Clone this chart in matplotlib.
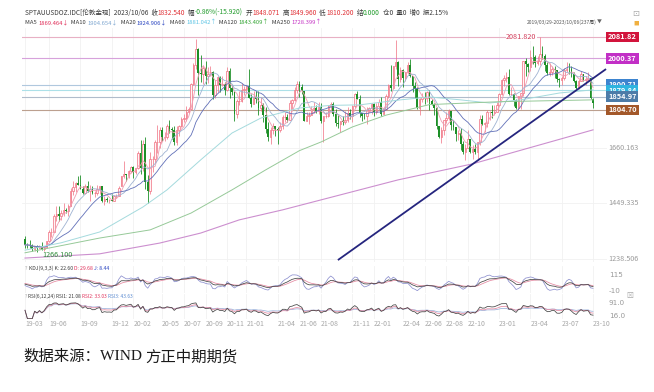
import numpy as np
import pandas as pd
import matplotlib
matplotlib.use("Agg")
import matplotlib.pyplot as plt
from matplotlib.transforms import blended_transform_factory

# ---------------- data (weekly, 2019/03/29 - 2023/10/06, 237 bars) ----------------
open_ = [1313,1292,1291,1290,1275,1286,1280,1286,1277,1284,
         1305,1341,1341,1400,1409,1400,1415,1426,1419,1441,
         1497,1513,1526,1520,1506,1488,1517,1497,1504,1489,
         1490,1505,1514,1459,1468,1462,1463,1460,1476,1478,
         1517,1552,1562,1557,1571,1589,1570,1584,1643,1585,
         1674,1530,1498,1617,1620,1683,1683,1727,1700,1702,
         1743,1734,1730,1684,1730,1743,1771,1775,1798,1810,
         1902,1975,2035,1944,1940,1964,1934,1940,1950,1861,
         1900,1930,1900,1902,1879,1951,1889,1871,1788,1839,
         1839,1881,1883,1896,1850,1828,1855,1847,1813,1823,
         1784,1733,1700,1727,1745,1732,1729,1744,1777,1777,
         1768,1831,1844,1881,1904,1891,1877,1764,1781,1787,
         1808,1812,1802,1814,1763,1780,1781,1818,1828,1788,
         1754,1750,1761,1757,1767,1792,1783,1818,1864,1846,
         1792,1783,1782,1804,1811,1829,1797,1818,1835,1791,
         1807,1859,1898,1889,1970,1988,1921,1958,1925,1947,
         1975,1932,1897,1883,1811,1845,1853,1851,1871,1840,
         1826,1811,1742,1703,1727,1766,1775,1802,1747,1738,
         1712,1716,1675,1644,1661,1695,1644,1656,1644,1681,
         1771,1751,1754,1797,1797,1793,1798,1824,1866,1920,
         1926,1928,1865,1865,1842,1811,1856,1868,1989,1978,
         1969,2007,2004,1983,1990,2016,2011,1977,1946,1948,
         1961,1958,1921,1919,1925,1955,1962,1959,1943,1914,
         1889,1915,1940,1919,1924,1925,1848.071]
high = [1324,1300,1310,1296,1288,1290,1290,1304,1287,1306,
        1348,1358,1411,1439,1438,1425,1453,1433,1449,1510,
        1535,1531,1555,1557,1516,1523,1535,1519,1516,1498,
        1518,1517,1517,1477,1475,1468,1485,1480,1485,1515,
        1553,1611,1563,1575,1590,1590,1585,1649,1689,1692,
        1703,1558,1645,1630,1690,1747,1738,1738,1722,1751,
        1765,1740,1745,1744,1746,1779,1789,1818,1815,1906,
        1984,2075,2039,2015,1977,1992,1966,1973,1952,1917,
        1933,1933,1932,1910,1966,1965,1900,1876,1847,1875,
        1906,1896,1900,1959,1864,1875,1875,1875,1855,1830,
        1816,1760,1739,1755,1745,1740,1758,1784,1798,1790,
        1843,1845,1890,1913,1916,1903,1878,1795,1795,1818,
        1834,1825,1833,1832,1783,1795,1823,1834,1833,1809,
        1787,1764,1781,1800,1814,1810,1822,1869,1877,1861,
        1793,1792,1814,1816,1831,1832,1830,1848,1853,1812,
        1865,1902,1974,1973,2070,1990,1966,1960,1950,1988,
        1998,1935,1910,1890,1849,1870,1874,1877,1879,1847,
        1830,1814,1745,1740,1767,1796,1807,1802,1765,1741,
        1729,1735,1688,1675,1730,1696,1670,1675,1682,1786,
        1787,1760,1804,1800,1824,1823,1833,1869,1922,1937,
        1949,1960,1890,1869,1845,1858,1870,1989,2003,1983,
        2032,2048,2015,2009,2081.82,2048,2019,1985,1983,1971,
        1971,1958,1926,1935,1963,1987,1982,1971,1948,1919,
        1923,1953,1943,1932,1947,1925,1849.96]
low = [1281,1280,1281,1270,1268,1266.1,1279,1273,1269,1280,
       1305,1322,1340,1382,1381,1386,1400,1412,1400,1440,
       1480,1492,1520,1506,1485,1484,1492,1459,1484,1474,
       1480,1487,1456,1445,1456,1452,1458,1458,1472,1477,
       1517,1548,1536,1546,1564,1548,1561,1581,1562,1574,
       1504,1451,1484,1568,1603,1641,1660,1688,1685,1696,
       1717,1693,1670,1671,1705,1741,1757,1763,1793,1807,
       1899,1961,1863,1910,1903,1902,1906,1933,1848,1850,
       1873,1872,1894,1860,1877,1850,1860,1764,1775,1822,
       1835,1862,1869,1849,1817,1826,1830,1785,1800,1760,
       1717,1687,1676,1712,1705,1677,1721,1731,1759,1757,
       1767,1808,1840,1870,1855,1867,1761,1761,1750,1785,
       1795,1794,1789,1755,1682,1773,1778,1806,1782,1745,
       1737,1721,1746,1750,1760,1770,1759,1812,1845,1778,
       1762,1770,1753,1796,1791,1782,1790,1805,1780,1788,
       1806,1850,1878,1885,1960,1895,1910,1890,1915,1940,
       1929,1872,1850,1807,1786,1834,1828,1836,1805,1822,
       1784,1732,1697,1680,1711,1754,1765,1727,1727,1688,
       1691,1654,1639,1614,1659,1640,1617,1638,1616,1671,
       1747,1721,1740,1765,1775,1784,1795,1823,1863,1896,
       1911,1860,1860,1819,1809,1804,1809,1858,1934,1949,
       1951,1981,1969,1974,1977,2000,1952,1937,1932,1938,
       1925,1910,1893,1901,1920,1950,1942,1928,1910,1885,
       1885,1913,1915,1901,1913,1846,1810.2]
close = [1292,1291,1290,1275,1286,1280,1286,1277,1284,1305,
         1341,1341,1400,1409,1400,1415,1426,1419,1441,1497,
         1513,1526,1520,1506,1488,1517,1497,1504,1489,1490,
         1505,1514,1459,1468,1462,1463,1460,1476,1478,1510,
         1552,1562,1557,1571,1589,1570,1584,1643,1585,1674,
         1530,1498,1617,1620,1683,1683,1727,1700,1702,1743,
         1734,1730,1684,1730,1743,1771,1775,1798,1810,1902,
         1975,2035,1944,1940,1964,1934,1940,1950,1861,1900,
         1930,1900,1902,1879,1951,1889,1871,1788,1839,1839,
         1881,1883,1896,1850,1828,1855,1847,1813,1823,1784,
         1733,1700,1727,1745,1732,1729,1744,1777,1777,1768,
         1831,1844,1881,1904,1891,1877,1764,1781,1787,1808,
         1812,1802,1814,1763,1780,1781,1818,1828,1788,1754,
         1750,1761,1757,1767,1792,1783,1818,1864,1846,1792,
         1783,1782,1804,1811,1829,1797,1818,1835,1791,1807,
         1859,1898,1889,1970,1988,1921,1958,1925,1947,1975,
         1932,1897,1883,1811,1845,1853,1851,1871,1840,1826,
         1811,1742,1703,1727,1766,1775,1802,1747,1738,1712,
         1716,1675,1644,1661,1695,1644,1656,1644,1681,1771,
         1751,1754,1797,1797,1793,1798,1824,1866,1920,1926,
         1928,1865,1865,1842,1811,1856,1868,1989,1978,1969,
         2007,2004,1983,1990,2016,2011,1977,1946,1948,1961,
         1958,1921,1919,1925,1955,1962,1959,1943,1914,1889,
         1915,1940,1919,1924,1925,1849,1832.54]

# long moving averages (bar index -> value)
ma60_idx = [0, 15, 31, 49, 59, 73, 86, 98, 114, 127, 139, 156, 168, 181, 193, 206, 222, 236]
ma60_val = [1272, 1300, 1341, 1436, 1501, 1615, 1717, 1774, 1812, 1822, 1824, 1843, 1854, 1843, 1831, 1843, 1869, 1881]
ma120_idx = [0, 31, 52, 69, 86, 100, 114, 123, 136, 150, 168, 197, 236]
ma120_val = [1262, 1318, 1349, 1413, 1501, 1577, 1650, 1683, 1740, 1785, 1825, 1836, 1843]
ma250_idx = [0, 31, 56, 73, 89, 107, 123, 155, 186, 236]
ma250_val = [1242, 1258, 1299, 1337, 1387, 1425, 1463, 1539, 1600, 1729]

# marked price levels (right-hand tags)
level_vals = [2081.82, 2000.37, 1900.71, 1879.84, 1854.97, 1804.70]
level_text = ["2081.82", "2000.37", "1900.71", "1879.84", "1854.97", "1804.70"]
# trend line end points (bar index, price)
trend_idx = [130, 241.4]
trend_val = [1234.4, 1960.0]

yticks_main = [1238.506, 1449.335, 1660.163]
tick_labels = ["19-03", "19-06", "19-09", "19-12", "20-02", "20-05", "20-07", "20-09",
               "20-11", "21-01", "21-04", "21-06", "21-08", "21-11", "22-01", "22-04",
               "22-06", "22-08", "22-10", "23-01", "23-04", "23-07", "23-10"]

o = np.array(open_, float); h = np.array(high, float)
l = np.array(low, float); c = np.array(close, float)
n = len(c)
assert len(o) == len(h) == len(l) == n == 237
x = np.arange(n)
dates = pd.date_range("2019-03-29", periods=n, freq="W-FRI")
ym = dates.strftime("%y-%m")
tick_pos = [int(np.argmax(ym == t)) for t in tick_labels]

# ---------------- figure ----------------
W, H = 654, 392
fig = plt.figure(figsize=(W / 100, H / 100), dpi=100)
fig.patch.set_facecolor("white")
def fy(y):
    return 1 - y / H

L, R = 22, 607
ax = fig.add_axes([L / W, fy(262), (R - L) / W, (262 - 28) / H])
axk = fig.add_axes([L / W, fy(293), (R - L) / W, 27 / H])
axr = fig.add_axes([L / W, fy(319), (R - L) / W, 25 / H])
XL = (-1.25, 241.8)
for a in (ax, axk, axr):
    a.set_xlim(*XL)
    a.patch.set_alpha(0)
    for s in a.spines.values():
        s.set_visible(False)
    a.set_xticks([]); a.set_yticks([])
    for p in tick_pos:
        a.axvline(p, color="#f1f1f1", lw=0.6, zorder=0)

ax.set_ylim(1227, 2116)
for yv in yticks_main:
    ax.axhline(yv, color="#f1f1f1", lw=0.6, zorder=0)

CJK = ["Noto Sans CJK SC", "DejaVu Sans"]
GRAY = "#9a9a9a"
tr_main = blended_transform_factory(ax.transAxes, ax.transData)
for yv in yticks_main:
    ax.text(1.003, yv, f"{yv:.3f}", transform=tr_main, fontsize=5.2, color=GRAY,
            va="center", ha="left", family=CJK)

# level lines
lvl_line_col = ["#e8b0c4", "#d7a2db", "#b0c8de", "#ace0e8", "#b0bccb", "#bca08f"]
lvl_box_col = ["#d2143c", "#c22fc6", "#3d84cf", "#2fb4df", "#4d7ca8", "#a3582a"]
for v, t, lc, bc in zip(level_vals, level_text, lvl_line_col, lvl_box_col):
    ax.axhline(v, color=lc, lw=0.8, zorder=1)
    ax.text(1.002, v, t, transform=tr_main, fontsize=5.3, color="white", va="center",
            ha="left", family=CJK, fontweight="bold", zorder=6,
            bbox=dict(boxstyle="square,pad=0.25", fc=bc, ec="none"))

# candles
UPC, DNC = "#f06f80", "#1d8f27"
up = c >= o
ax.vlines(x[up], l[up], h[up], color=UPC, lw=0.5, zorder=2)
ax.vlines(x[~up], l[~up], h[~up], color=DNC, lw=0.6, zorder=2)
ax.bar(x[up], c[up] - o[up], bottom=o[up], width=0.62, facecolor="#fff4f5",
       edgecolor=UPC, lw=0.5, zorder=3)
ax.bar(x[~up], o[~up] - c[~up], bottom=c[~up], width=0.72, color=DNC, lw=0, zorder=3)

# moving averages
cs = pd.Series(c)
ax.plot(x, cs.rolling(5, min_periods=1).mean(), color="#ef9db2", lw=0.6, zorder=4)
ax.plot(x, cs.rolling(10, min_periods=1).mean(), color="#9fb3d2", lw=0.6, zorder=4)
ax.plot(x, cs.rolling(20, min_periods=1).mean(), color="#6170b8", lw=0.6, zorder=4)
ax.plot(ma60_idx, ma60_val, color="#a4dadd", lw=0.7, zorder=4)
ax.plot(ma120_idx, ma120_val, color="#96c998", lw=0.7, zorder=4)
ax.plot(ma250_idx, ma250_val, color="#cc8fcf", lw=0.8, zorder=4)

# trend line
ax.plot(trend_idx, trend_val, color="#25257e", lw=1.3, zorder=5, solid_capstyle="butt")

# extreme labels
imax = int(np.argmax(h)); imin = int(np.argmin(l))
ax.text(imax - 1.5, h[imax], f"{h[imax]:.3f}", fontsize=5.2, color="#d23c5a", ha="right",
        va="center", family=CJK, zorder=6,
        bbox=dict(boxstyle="square,pad=0.05", fc="white", ec="none"))
ax.text(imin + 2.0, l[imin] - 12, f"{l[imin]:.3f}", fontsize=5.2, color="#2e8b3a", ha="left",
        va="center", family=CJK, zorder=6)

# ---------------- KDJ(9,3,3) ----------------
llv = pd.Series(l).rolling(9, min_periods=1).min().values
hhv = pd.Series(h).rolling(9, min_periods=1).max().values
rsv = np.where(hhv > llv, (c - llv) / np.where(hhv > llv, hhv - llv, 1) * 100, 50)
K = np.zeros(n); D = np.zeros(n)
kp, dp = 50.0, 50.0
for i in range(n):
    kp = (2 * kp + rsv[i]) / 3
    dp = (2 * dp + kp) / 3
    K[i], D[i] = kp, dp
J = 3 * K - 2 * D
axk.set_ylim(-29, 187)
axk.plot(x, J, color="#8d90cf", lw=0.55)
axk.plot(x, D, color="#e58aa2", lw=0.55)
axk.plot(x, K, color="#444444", lw=0.55)
tr_k = blended_transform_factory(axk.transAxes, axk.transData)
for v, t in [(115, "115"), (-10, "-10")]:
    axk.text(1.003, v, t, transform=tr_k, fontsize=5.2, color=GRAY, va="center", ha="left")

# ---------------- RSI(6,12,24) ----------------
diff = np.diff(c, prepend=c[0])
def sma(arr, N):
    out = np.zeros(len(arr)); y = arr[0]
    for i, v in enumerate(arr):
        y = (v + (N - 1) * y) / N
        out[i] = y
    return out
def rsi(N):
    a = sma(np.maximum(diff, 0), N); b = sma(np.abs(diff), N)
    return np.where(b > 0, a / np.where(b > 0, b, 1) * 100, 50)
axr.set_ylim(-1.6, 145.7)
axr.plot(x, rsi(24), color="#9ab1db", lw=0.55)
axr.plot(x, rsi(12), color="#e58aa2", lw=0.55)
axr.plot(x, rsi(6), color="#444444", lw=0.55)
tr_r = blended_transform_factory(axr.transAxes, axr.transData)
for v, t in [(91, "91.0"), (16, "16.0")]:
    axr.text(1.003, v, t, transform=tr_r, fontsize=5.2, color=GRAY, va="center", ha="left")

# x tick labels
tr_x = blended_transform_factory(axr.transData, fig.transFigure)
for p, t in zip(tick_pos, tick_labels):
    axr.text(p, fy(324), t, transform=tr_x, fontsize=5.0, color="#a8a8a8",
             ha="left", va="center", family=CJK)

# ---------------- header texts ----------------
renderer = fig.canvas.get_renderer()
def runs_text(x0, y0, runs, size, family=CJK, target=None, weight="normal"):
    def draw(sz):
        xx = x0; objs = []
        for s, col in runs:
            t = fig.text(xx / W, fy(y0), s, color=col, fontsize=sz, va="center",
                         ha="left", family=family, fontweight=weight)
            bb = t.get_window_extent(renderer)
            xx += bb.width
            objs.append(t)
        return objs, xx - x0
    objs, w = draw(size)
    if target:
        for t in objs:
            t.remove()
        objs, w = draw(size * target / w)
    return objs

DK = "#3a3a3a"; RED = "#e03035"; GRN = "#1f9a2a"
runs_text(25, 13, [("SPTAUUSDOZ.IDC[伦敦金现]  2023/10/06  收", DK), ("1832.540", RED),
                   ("  幅", DK), ("-0.86%(-15.920)", GRN), ("  开", DK), ("1848.071", RED),
                   ("  高", DK), ("1849.960", RED), ("  低", DK), ("1810.200", RED),
                   ("  结", DK), ("0.000", GRN), ("  仓0  量0  增0  振2.15%", DK)],
          5.2, target=423)
runs_text(25, 22.5, [("MA5 ", DK), ("1869.464↓", "#e0305a"), ("  MA10 ", DK), ("1904.654↓", "#7fa7d0"),
                     ("  MA20 ", DK), ("1924.906↓", "#2a45c0"), ("  MA60 ", DK), ("1881.042↑", "#5cc4e4"),
                     ("  MA120 ", DK), ("1843.409↑", "#35a535"), ("  MA250 ", DK), ("1728.399↑", "#c535c5")],
          5.2, target=299)
runs_text(527, 22, [("2019/03/29-2023/10/06(237周)", "#555555"), ("▼", "#666666")], 5.2, target=75)
fig.text(636 / W, fy(13), "⊡", fontsize=6, color="#aaaaaa", ha="center", va="center", family=CJK)
fig.text(636 / W, fy(23.5), "■", fontsize=4, color="#f0b040", ha="center", va="center", family=CJK)
fig.text(630 / W, fy(296), "⊠", fontsize=5, color="#aaaaaa", ha="center", va="center", family=CJK)

runs_text(25, 268.5, [("? ", "#aaaaaa"), ("KDJ(9,3,3) K: 22.60 ", DK), ("D: 29.68 ", "#e0305a"),
                      ("J: 8.44", "#2a45c0")], 5.2, target=85)
runs_text(25, 296.5, [("? ", "#aaaaaa"), ("RSI(6,12,24) RSI1: 21.08 ", DK), ("RSI2: 33.03 ", "#e0305a"),
                      ("RSI3: 43.63", "#5a8ad0")], 5.2, target=107)

# footer
runs_text(23, 357, [("数据来源：", "#1a1a1a"), ("WIND ", "#1a1a1a"), ("方正中期期货", "#1a1a1a")],
          10.8, family=["Liberation Serif", "Noto Sans CJK SC"], target=215)

fig.savefig("out.png", dpi=100, facecolor="white")
